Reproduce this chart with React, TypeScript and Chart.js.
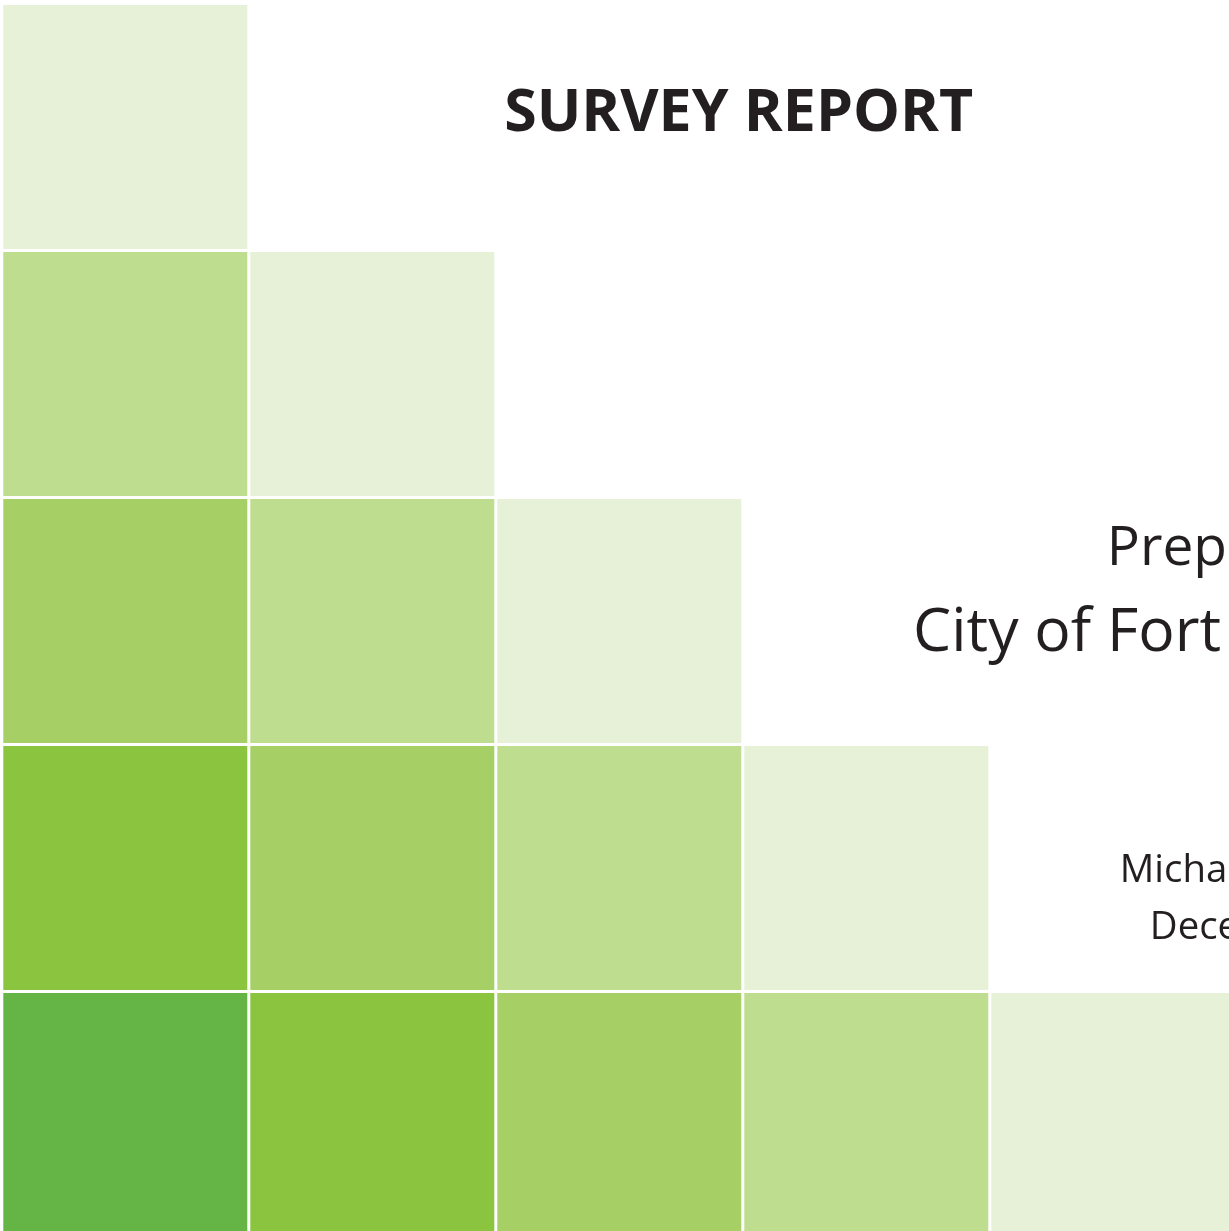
import React, { useEffect, useRef } from "react";
import { Chart, registerables } from "chart.js";

Chart.register(...registerables);

// ---- data ----
const columns = [0, 1, 2, 3, 4];
const rows = [0, 1, 2, 3, 4];
// shade level of each cell, row by row (cols 0..row)
const shadeLevels: number[][] = [
  [0],
  [1, 0],
  [2, 1, 0],
  [3, 2, 1, 0],
  [4, 3, 2, 1, 0],
];
const palette = ["#E6F1D7", "#BFDD8F", "#A6D065", "#8BC540", "#65B446"];

const titleText = "SURVEY REPORT";
const preparedLines = ["Prep", "City of Fort"];
const authorLines = ["Micha", "Dece"];

const W = 1229;
const H = 1231;
const PITCH = 247;

type TextSpec = {
  text: string;
  weight: string;
  left: number;
  baseline: number;
  cap: number;
  width?: number;
  ratioFrom?: string;
};

const textSpecs: TextSpec[] = [
  { text: titleText, weight: "700", left: 506.5, baseline: 130.5, cap: 42.5, width: 465.5 },
  { text: preparedLines[1], weight: "400", left: 916.7, baseline: 651, cap: 43.5, width: 303.5 },
  { text: preparedLines[0], weight: "400", left: 1111.7, baseline: 565, cap: 39.5, ratioFrom: preparedLines[1] },
  { text: authorLines[0], weight: "400", left: 1123.3, baseline: 882.3, cap: 27.5, ratioFrom: preparedLines[1] },
  { text: authorLines[1], weight: "400", left: 1153.3, baseline: 939.3, cap: 27.5, ratioFrom: preparedLines[1] },
];

const FONT = "'Open Sans', 'Noto Sans', sans-serif";

const textPlugin = {
  id: "coverText",
  afterDraw(chart: any) {
    const ctx: CanvasRenderingContext2D = chart.ctx;
    const ratios: Record<string, number> = {};
    const specs = [...textSpecs].sort((a, b) => (a.width ? 0 : 1) - (b.width ? 0 : 1));
    for (const s of specs) {
      ctx.save();
      ctx.font = `${s.weight} 100px ${FONT}`;
      ctx.textBaseline = "alphabetic";
      ctx.textAlign = "left";
      const capM = ctx.measureText("H").actualBoundingBoxAscent;
      const m = ctx.measureText(s.text);
      const sy = s.cap / capM;
      let sx = sy;
      if (s.width) {
        const ink = m.actualBoundingBoxLeft + m.actualBoundingBoxRight;
        sx = s.width / ink;
        ratios[s.text] = sx / sy;
      } else if (s.ratioFrom && ratios[s.ratioFrom]) {
        sx = sy * ratios[s.ratioFrom];
      }
      ctx.fillStyle = "#231F20";
      ctx.translate(s.left, s.baseline);
      ctx.scale(sx, sy);
      ctx.fillText(s.text, m.actualBoundingBoxLeft, 0);
      ctx.restore();
    }
  },
};

export default function App() {
  const ref = useRef<HTMLCanvasElement | null>(null);

  useEffect(() => {
    document.body.style.margin = "0";
    document.body.style.background = "#ffffff";
    const canvas = ref.current;
    if (!canvas) return;

    const datasets = rows.map((r) => ({
      label: `row ${r}`,
      data: shadeLevels[r].map((_, c) => ({ x: columns[c], y: [r, r + 1] })),
      backgroundColor: shadeLevels[r].map((lvl) => palette[lvl]),
      borderColor: "#ffffff",
      borderWidth: 1.5,
      borderSkipped: false as const,
      inflateAmount: 0,
      grouped: false,
      categoryPercentage: 1,
      barPercentage: 1,
    }));

    const xMin = -125.3 / PITCH;
    const yMin = -3.5 / PITCH;

    const chart = new Chart(canvas, {
      type: "bar",
      data: { datasets: datasets as any },
      options: {
        animation: false,
        responsive: false,
        maintainAspectRatio: false,
        layout: { padding: 0 },
        plugins: {
          legend: { display: false },
          tooltip: { enabled: false },
          title: { display: false },
        },
        scales: {
          x: { type: "linear", display: false, min: xMin, max: xMin + W / PITCH, offset: false },
          y: { type: "linear", display: false, reverse: true, min: yMin, max: yMin + H / PITCH },
        },
      },
      plugins: [textPlugin],
    });
    return () => chart.destroy();
  }, []);

  return (
    <div style={{ width: W, height: H, background: "#ffffff" }}>
      <canvas ref={ref} width={W} height={H} style={{ display: "block" }} />
    </div>
  );
}
